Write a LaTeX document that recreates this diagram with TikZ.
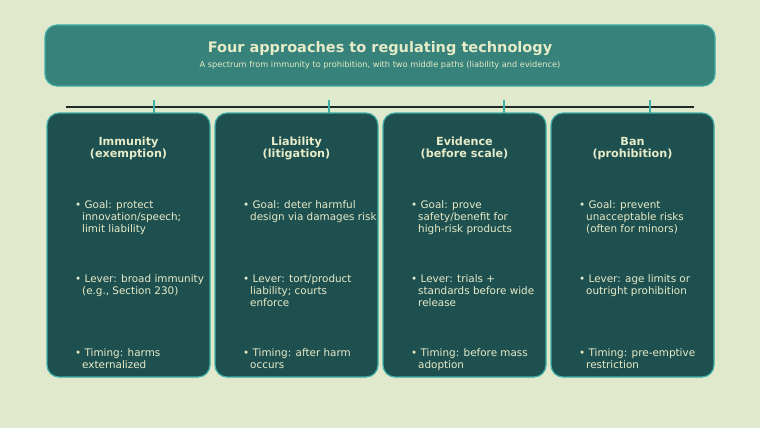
\documentclass[tikz,border=0pt]{standalone}
\usepackage{fontspec}
\setmainfont{DejaVu Sans}
\definecolor{bgc}{HTML}{E1E9CC}
\definecolor{hdrfill}{HTML}{37827A}
\definecolor{edge}{HTML}{3FAFA8}
\definecolor{cardfill}{HTML}{1F5050}
\definecolor{txt}{HTML}{E6EBC8}
\definecolor{axis}{HTML}{1E2B22}
\tikzset{
  hdr/.style={draw=edge, line width=1.2pt, fill=hdrfill, rounded corners=12pt},
  card/.style={draw=edge, line width=1.2pt, fill=cardfill, rounded corners=12pt},
  ctitle/.style={text=txt, font=\bfseries\fontsize{11.2}{12}\selectfont, align=center, anchor=north, inner sep=0pt},
  bullet/.style={text=txt, font=\fontsize{10.4}{12}\selectfont, align=left, anchor=north west, inner sep=0pt},
  tick/.style={draw=edge, line width=1.2pt},
}
\newcommand{\ind}{\hspace*{7pt}}
\begin{document}
\begin{tikzpicture}[x=1pt,y=-1pt]
\fill[bgc] (0,0) rectangle (760,428);
\useasboundingbox (0,0) rectangle (760,428);
% header
\draw[hdr] (45,25) rectangle (715,86);
\node[text=txt, font=\bfseries\fontsize{14.5}{16}\selectfont, anchor=base, inner sep=0pt] (title) at (380,52.5) {Four approaches to regulating technology};
\node[text=txt, font=\fontsize{8.2}{9}\selectfont, anchor=base, inner sep=0pt] (sub) at (380,67) {A spectrum from immunity to prohibition, with two middle paths (liability and evidence)};
% axis
\coordinate (axL) at (66,107);
\coordinate (axR) at (694,107);
\draw[axis, line width=1.2pt] (axL) -- (axR);
% cards
\foreach \x/\n in {47/c1,215/c2,383/c3,551/c4}{
  \draw[card] (\x,113) rectangle ++(163,264);
}
% ticks
\foreach \t in {154,329,504,650}{
  \draw[tick] (\t,100) -- (\t,113);
}
% card 1
\node[ctitle] (t1) at (128.5,137.2) {Immunity\\(exemption)};
\node[bullet] (g1) at (75,200.8) {• Goal: protect\\\ind innovation/speech;\\\ind limit liability};
\node[bullet] (l1) at (75,274.8) {• Lever: broad immunity\\\ind (e.g., Section 230)};
\node[bullet] (m1) at (75,348.8) {• Timing: harms\\\ind externalized};
% card 2
\node[ctitle] (t2) at (296.5,137.2) {Liability\\(litigation)};
\node[bullet] (g2) at (243,200.8) {• Goal: deter harmful\\\ind design via damages risk};
\node[bullet] (l2) at (243,274.8) {• Lever: tort/product\\\ind liability; courts\\\ind enforce};
\node[bullet] (m2) at (243,348.8) {• Timing: after harm\\\ind occurs};
% card 3
\node[ctitle] (t3) at (464.5,137.2) {Evidence\\(before scale)};
\node[bullet] (g3) at (411,200.8) {• Goal: prove\\\ind safety/benefit for\\\ind high-risk products};
\node[bullet] (l3) at (411,274.8) {• Lever: trials +\\\ind standards before wide\\\ind release};
\node[bullet] (m3) at (411,348.8) {• Timing: before mass\\\ind adoption};
% card 4
\node[ctitle] (t4) at (632.5,137.2) {Ban\\(prohibition)};
\node[bullet] (g4) at (579,200.8) {• Goal: prevent\\\ind unacceptable risks\\\ind (often for minors)};
\node[bullet] (l4) at (579,274.8) {• Lever: age limits or\\\ind outright prohibition};
\node[bullet] (m4) at (579,348.8) {• Timing: pre-emptive\\\ind restriction};
\end{tikzpicture}
\end{document}
